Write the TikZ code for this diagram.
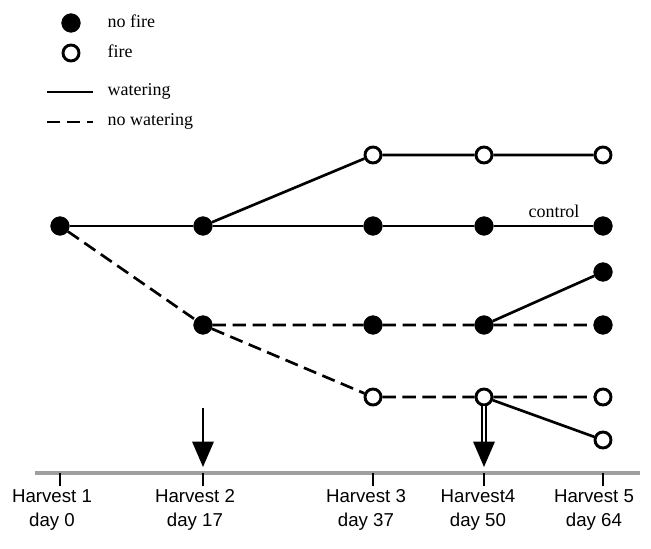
\documentclass[tikz,border=0pt]{standalone}
\usepackage{fontspec}
\setmainfont{Liberation Serif}
\newfontfamily\axisfont{Liberation Sans}
\usetikzlibrary{arrows.meta}

\tikzset{
	nofire/.style={circle, fill=black, draw=black, inner sep=0pt, minimum size=14pt},
	fire/.style={circle, fill=white, draw=black, line width=2.2pt, inner sep=0pt, minimum size=12pt},
	water/.style={line width=2pt},
	nowater/.style={line width=2pt, dash pattern=on 10pt off 5pt},
	harvest/.style={font=\axisfont\fontsize{14}{18}\selectfont, align=center},
	legtext/.style={anchor=west, font=\fontsize{13.5}{16}\selectfont},
	drop/.style={line width=1.6pt, -{Triangle[width=16pt,length=19pt]}},
}

\begin{document}
\begin{tikzpicture}[x=0.75pt,y=-0.75pt]
	\useasboundingbox (0,0) rectangle (651,549);
	% legend
		\node[nofire] (lnofire) at (71,23) {};
		\node[fire] (lfire) at (71,53) {};
		\coordinate (lw1) at (47,92);
		\coordinate (lw2) at (93,92);
		\coordinate (ln1) at (47,122);
		\coordinate (ln2) at (93,122);
		\draw[water] (lw1) -- (lw2);
		\draw[nowater] (ln1) -- (ln2);
		\node[legtext] (tnofire) at (103,21) {no fire};
		\node[legtext] (tfire) at (103,51) {fire};
		\node[legtext] (twater) at (103,91) {watering};
		\node[legtext] (tnowater) at (103,121) {no watering};
	% treatments
		\node[nofire] (h1) at (60,226) {};
		\node[nofire] (w2) at (203,226) {};
		\node[nofire] (w3) at (373,226) {};
		\node[nofire] (w4) at (484,226) {};
		\node[nofire] (w5) at (603,226) {};
		\node[fire] (f3) at (373,155) {};
		\node[fire] (f4) at (484,155) {};
		\node[fire] (f5) at (603,155) {};
		\node[nofire] (d2) at (203,325) {};
		\node[nofire] (d3) at (373,325) {};
		\node[nofire] (d4) at (484,325) {};
		\node[nofire] (d5) at (603,325) {};
		\node[nofire] (r5) at (603,272) {};
		\node[fire] (g3) at (373,397) {};
		\node[fire] (g4) at (484,397) {};
		\node[fire] (g5) at (603,397) {};
		\node[fire] (k5) at (603,440) {};
		\draw[water] (h1) -- (w2) -- (w3) -- (w4) -- (w5);
		\draw[water] (w2) -- (f3) -- (f4) -- (f5);
		\draw[nowater] (h1) -- (d2) -- (d3) -- (d4) -- (d5);
		\draw[water] (d4) -- (r5);
		\draw[nowater] (d2) -- (g3) -- (g4) -- (g5);
		\draw[water] (g4) -- (k5);
		\node[font=\fontsize{13.5}{16}\selectfont] (ctrl) at (554,211) {control};
	% time axis
		\coordinate (ax1) at (35,473);
		\coordinate (ax2) at (640,473);
		\draw[line width=3pt, gray!75] (ax1) -- (ax2);
		\foreach \x/\n in {60/1, 203/2, 373/3, 484/4, 603/5}{
			\coordinate (t\n) at (\x,473);
			\coordinate (b\n) at (\x,486);
			\draw[line width=1.6pt] (t\n) -- (b\n);
		}
		\node[harvest] (lab1) at (52,510) {Harvest 1\\day 0};
		\node[harvest] (lab2) at (195,510) {Harvest 2\\day 17};
		\node[harvest] (lab3) at (366,510) {Harvest 3\\day 37};
		\node[harvest] (lab4) at (478,510) {Harvest4\\day 50};
		\node[harvest] (lab5) at (594,510) {Harvest 5\\day 64};
	% harvest arrows
		\coordinate (p2) at (203,408);
		\coordinate (q2) at (203,467);
		\draw[drop] (p2) -- (q2);
		\coordinate (p4) at (484,406);
		\coordinate (m4) at (484,444);
		\coordinate (q4) at (484,467);
		\draw[line width=1.4pt, double, double distance=1.4pt] (p4) -- (m4);
		\draw[drop] (m4) -- (q4);
\end{tikzpicture}
\end{document}
